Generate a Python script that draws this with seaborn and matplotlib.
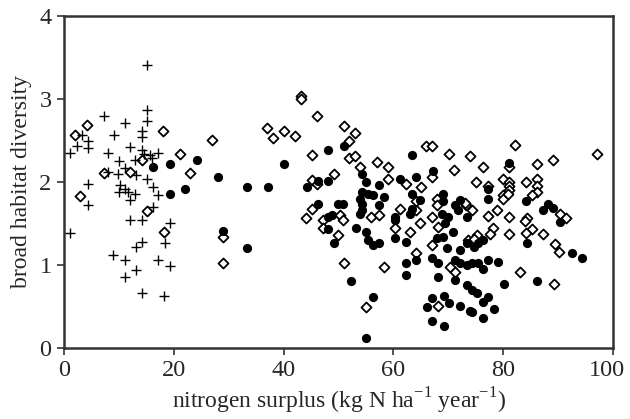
import matplotlib
matplotlib.use('Agg')
import matplotlib.pyplot as plt
import matplotlib.transforms as mtransforms
import seaborn as sns

# crosses (low nitrogen surplus group)
cross_x = [15.1, 15.1, 15.1, 7.2, 11.1, 14.2, 14.2, 9.1, 3.2, 4.4,
           4.4, 2.3, 1.1, 8.1, 12.0, 14.2, 14.5, 15.7, 17.2, 16.0,
           12.9, 10.1, 11.1, 9.9, 8.1, 13.2, 15.1, 10.2, 4.4, 16.3,
           10.1, 11.1, 11.7, 12.9, 12.0, 17.2, 16.3, 4.4, 1.1, 12.0,
           14.2, 19.3, 18.4, 14.2, 13.2, 9.0, 11.1, 17.2, 19.3, 13.2,
           11.1, 14.2, 18.2]
cross_y = [3.41, 2.87, 2.74, 2.79, 2.71, 2.61, 2.54, 2.57, 2.57, 2.49,
           2.41, 2.43, 2.35, 2.35, 2.42, 2.39, 2.34, 2.33, 2.35, 2.29,
           2.27, 2.25, 2.17, 2.10, 2.12, 2.08, 2.04, 1.96, 1.98, 1.94,
           1.88, 1.92, 1.88, 1.86, 1.78, 1.84, 1.70, 1.72, 1.38, 1.54,
           1.54, 1.50, 1.26, 1.28, 1.22, 1.12, 1.06, 1.06, 0.99, 0.94,
           0.86, 0.66, 0.63]

# open diamonds
diamond_x = [4.1, 2.0, 18.1, 21.1, 7.2, 12.0, 14.2, 23.0, 3.0, 15.1,
             18.2, 29.0, 29.0, 27.0, 37.0, 38.1, 40.1, 42.1, 43.1, 43.1,
             46.1, 45.1, 45.1, 46.1, 44.1, 45.1, 47.2, 47.2, 51.0, 53.0,
             52.0, 52.0, 53.0, 53.9, 57.1, 59.1, 59.1, 49.1, 62.3, 65.0,
             65.9, 67.1, 70.1, 71.1, 74.0, 67.0, 61.2, 67.9, 67.9, 73.3,
             50.3, 56.0, 57.3, 64.2, 50.9, 50.0, 51.0, 58.2, 55.1, 60.3,
             63.1, 64.8, 64.2, 67.1, 67.0, 68.2, 70.3, 71.2, 68.2, 73.6,
             82.1, 76.3, 81.1, 86.1, 89.1, 97.0, 75.1, 77.3, 80.0, 81.1,
             81.1, 81.1, 84.2, 86.1, 86.1, 86.1, 85.2, 80.0, 80.0, 80.9,
             73.0, 74.3, 77.3, 78.9, 81.1, 84.3, 90.3, 91.4, 84.0, 85.2,
             84.2, 87.2, 81.1, 78.2, 77.6, 75.2, 74.6, 89.4, 90.2, 83.1,
             89.3, 64.2]
diamond_y = [2.69, 2.56, 2.61, 2.34, 2.11, 2.12, 2.26, 2.11, 1.83, 1.65,
             1.40, 1.34, 1.02, 2.51, 2.65, 2.53, 2.62, 2.55, 3.03, 3.00,
             2.80, 2.32, 2.02, 1.98, 1.56, 1.68, 1.54, 1.45, 2.67, 2.59,
             2.49, 2.29, 2.31, 2.18, 2.24, 2.18, 2.04, 2.10, 1.98, 1.94,
             2.43, 2.43, 2.34, 2.14, 2.31, 2.06, 1.68, 1.80, 1.72, 1.72,
             1.60, 1.58, 1.60, 1.66, 1.54, 1.36, 1.02, 0.98, 0.49, 1.44,
             1.40, 1.50, 1.15, 1.24, 1.58, 1.46, 0.97, 0.91, 0.50, 1.30,
             2.44, 2.18, 2.18, 2.22, 2.27, 2.34, 2.00, 1.95, 2.03, 2.00,
             1.95, 1.90, 2.00, 2.04, 1.95, 1.88, 1.84, 1.84, 1.80, 1.86,
             1.75, 1.66, 1.59, 1.66, 1.58, 1.56, 1.62, 1.56, 1.53, 1.43,
             1.38, 1.37, 1.37, 1.44, 1.37, 1.36, 1.31, 1.25, 1.16, 0.92,
             0.77, 1.77]

# filled circles
circle_x = [16.3, 19.3, 22.0, 19.3, 24.2, 28.1, 33.3, 37.1, 40.1, 44.2,
            46.2, 48.1, 48.1, 29.0, 33.3, 46.2, 48.1, 48.1, 51.0, 63.3,
            67.3, 64.2, 61.2, 54.2, 55.1, 57.3, 63.3, 54.2, 55.4, 56.3,
            58.2, 53.9, 54.2, 57.3, 50.0, 50.9, 54.2, 64.8, 63.3, 69.1,
            69.1, 72.1, 71.2, 48.8, 60.3, 49.1, 53.2, 55.1, 55.4, 56.3,
            57.3, 60.3, 62.3, 62.3, 62.3, 64.2, 52.2, 56.2, 55.1, 67.0,
            68.2, 68.2, 67.1, 69.2, 70.2, 66.2, 67.1, 69.2, 72.1, 71.2,
            73.4, 74.0, 69.1, 69.7, 69.4, 70.9, 72.1, 71.2, 72.1, 73.4,
            53.9, 60.3, 63.0, 68.8, 70.0, 73.4, 73.4, 81.1, 77.3, 77.3,
            84.2, 88.2, 89.1, 87.2, 90.3, 84.3, 92.5, 94.3, 86.2, 80.1,
            76.4, 75.5, 74.6, 77.3, 79.1, 75.5, 74.3, 76.4, 74.3, 75.2,
            77.3, 76.4, 78.3, 74.3, 76.3, 71.8, 67.9]
circle_y = [2.18, 2.22, 1.92, 1.86, 2.27, 2.06, 1.94, 1.94, 2.22, 1.94,
            2.01, 2.39, 2.01, 1.41, 1.20, 1.74, 1.58, 1.43, 2.43, 2.32,
            2.13, 2.06, 2.04, 2.10, 2.00, 1.96, 1.86, 1.88, 1.86, 1.84,
            1.82, 1.80, 1.74, 1.72, 1.73, 1.73, 1.66, 1.78, 1.68, 1.86,
            1.77, 1.78, 1.72, 1.60, 1.58, 1.26, 1.45, 1.40, 1.30, 1.24,
            1.26, 1.32, 1.28, 1.02, 0.88, 1.06, 0.81, 0.62, 0.12, 1.08,
            1.02, 0.86, 0.60, 0.63, 0.54, 0.49, 0.32, 0.26, 0.50, 0.82,
            0.76, 0.44, 1.34, 1.20, 1.50, 1.40, 1.18, 1.06, 1.02, 1.58,
            1.62, 1.54, 1.62, 1.62, 1.58, 1.26, 1.00, 2.23, 1.91, 1.79,
            1.77, 1.73, 1.69, 1.66, 1.52, 1.26, 1.14, 1.08, 0.81, 0.77,
            1.30, 1.26, 1.22, 1.06, 1.04, 1.02, 1.02, 0.95, 0.70, 0.66,
            0.61, 0.55, 0.47, 0.43, 0.36, 1.66, 1.32]

x_ticks = [0, 20, 40, 60, 80, 100]
y_ticks = [0, 1, 2, 3, 4]

sns.set_style('ticks')
plt.rcParams['font.family'] = ['Liberation Serif', 'DejaVu Serif']

fig = plt.figure(figsize=(6.3, 4.19), dpi=100)
ax = fig.add_axes([0.1016, 0.1695, 0.8714, 0.7924])

sns.scatterplot(x=diamond_x, y=diamond_y, marker='D', s=26, color='white',
                edgecolor='black', linewidth=1.3, ax=ax, zorder=2)
sns.scatterplot(x=circle_x, y=circle_y, marker='o', s=44, color='black',
                edgecolor='black', linewidth=0, ax=ax, zorder=3)
sns.scatterplot(x=cross_x, y=cross_y, marker='+', s=42, color='black',
                linewidth=1.0, ax=ax, zorder=3)

ax.set_xlim(0, 100)
ax.set_ylim(0, 4)
ax.set_xticks(x_ticks)
ax.set_yticks(y_ticks)
ax.tick_params(labelsize=17.5, length=5, width=1.2, color='#333333', pad=4)
for s in ax.spines.values():
    s.set_visible(True)
    s.set_linewidth(1.8)
    s.set_color('#333333')

# keep the last x tick label inside the figure
last = ax.get_xticklabels()[-1]
last.set_transform(last.get_transform() +
                   mtransforms.ScaledTranslation(-6 / 100, 0, fig.dpi_scale_trans))

ax.set_xlabel('nitrogen surplus (kg N ha$^{\\mathregular{-1}}$ year$^{\\mathregular{-1}}$)',
              fontsize=17, labelpad=3)
ax.set_ylabel('broad habitat diversity', fontsize=17, labelpad=5)

fig.savefig('out.png', dpi=100)
